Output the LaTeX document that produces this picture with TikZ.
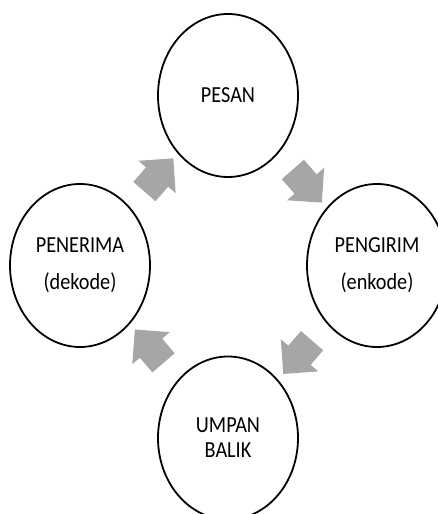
\documentclass[tikz,border=0pt]{standalone}
\usepackage{fontspec}
\setmainfont{Carlito}
\newfontfamily\labelfont[FakeStretch=0.88]{Carlito}
\usetikzlibrary{shapes.geometric,shapes.arrows}
\definecolor{arrowgrey}{HTML}{A6A6A6}
\begin{document}
\begin{tikzpicture}[x=1pt,y=1pt,
  bubble/.style={draw=black, line width=1.8pt, ellipse, minimum width=140pt,
    minimum height=163pt, inner sep=0pt, align=center,
    font=\labelfont\fontsize{23}{37}\selectfont},
  cyc/.style={fill=arrowgrey, draw=none, single arrow, single arrow tip angle=90,
    single arrow head extend=10pt, minimum height=44pt, inner sep=0pt,
    text height=29pt, text depth=0pt, sloped, allow upside down, midway}]
\useasboundingbox (0,0) rectangle (438,514);
\clip (0,0) rectangle (438,514);
\node[bubble] (pes) at (228,418.5) {PESAN};
\node[bubble] (pen) at (377,248.5) {PENGIRIM\\(enkode)};
\node[bubble, font=\labelfont\fontsize{23}{25}\selectfont] (ump) at (228,76) {UMPAN\\BALIK};
\node[bubble] (ter) at (80,248.5) {PENERIMA\\(dekode)};
\path (ter.center) -- (pes.center) node[cyc] (a1) {};
\path (pes.center) -- (pen.center) node[cyc] (a2) {};
\path (pen.center) -- (ump.center) node[cyc] (a3) {};
\path (ump.center) -- (ter.center) node[cyc] (a4) {};
\end{tikzpicture}
\end{document}
